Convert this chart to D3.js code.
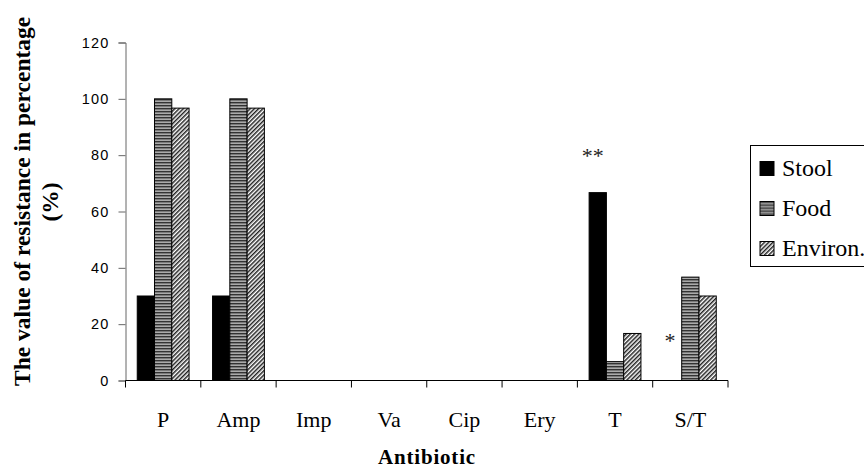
<!DOCTYPE html>
<html>
<head>
<meta charset="utf-8">
<script src="https://cdn.jsdelivr.net/npm/d3@7"></script>
<style>
  body { margin: 0; background: #fff; overflow: hidden; }
  svg { display: block; }
</style>
</head>
<body>
<svg id="chart" width="864" height="470"></svg>
<script>
// chart data
var antibiotics = ["P", "Amp", "Imp", "Va", "Cip", "Ery", "T", "S/T"];
var sources = ["Stool", "Food", "Environ."];
var stool = [30, 30, 0, 0, 0, 0, 66.7, 0];
var food = [100, 100, 0, 0, 0, 0, 6.7, 36.7];
var environ = [96.7, 96.7, 0, 0, 0, 0, 16.7, 30];
var yTicks = [0, 20, 40, 60, 80, 100, 120];
var marks = [{ cat: "T", text: "**", y: 81 }, { cat: "S/T", text: "*", y: 15.4 }];

var serif = "Liberation Serif, Times New Roman, serif";
var svg = d3.select("#chart");

var x = d3.scaleBand().domain(antibiotics).range([125.5, 728]).padding(0);
var x1 = d3.scaleBand().domain(sources).range([0, x.bandwidth()])
    .paddingInner(0).paddingOuter(0.68);
var y = d3.scaleLinear().domain([0, 120]).range([380.5, 42.5]);

// patterns for the fills
var defs = svg.append("defs");
var pFood = defs.append("pattern").attr("id", "food")
    .attr("patternUnits", "userSpaceOnUse").attr("width", 6).attr("height", 3);
pFood.append("rect").attr("width", 6).attr("height", 3).attr("fill", "#aaa");
pFood.append("rect").attr("width", 6).attr("height", 1.4).attr("fill", "#333");

var pEnv = defs.append("pattern").attr("id", "env")
    .attr("patternUnits", "userSpaceOnUse").attr("width", 3).attr("height", 3)
    .attr("patternTransform", "rotate(45)");
pEnv.append("rect").attr("width", 3).attr("height", 3).attr("fill", "#fff");
pEnv.append("rect").attr("width", 1.5).attr("height", 3).attr("fill", "#222");

var fills = { "Stool": "#000", "Food": "url(#food)", "Environ.": "url(#env)" };

var rows = antibiotics.map(function(a, i) {
    return { cat: a, values: [stool[i], food[i], environ[i]] };
});

// bars
var groups = svg.append("g").selectAll("g")
    .data(rows)
    .join("g")
    .attr("transform", function(d) { return "translate(" + x(d.cat) + ",0)"; });

groups.selectAll("rect")
    .data(function(d) {
        return sources.map(function(s, j) { return { key: s, value: d.values[j] }; });
    })
    .join("rect")
    .filter(function(d) { return d.value > 0; })
    .attr("x", function(d) { return x1(d.key); })
    .attr("y", function(d) { return y(d.value); })
    .attr("width", x1.bandwidth())
    .attr("height", function(d) { return y(0) - y(d.value); })
    .attr("fill", function(d) { return fills[d.key]; })
    .attr("stroke", "#000")
    .attr("stroke-width", 1);

// y axis
var yAxis = svg.append("g")
    .attr("transform", "translate(125.5,0)")
    .call(d3.axisLeft(y).tickValues(yTicks).tickSize(7).tickPadding(9));
yAxis.select(".domain").attr("stroke", "#666");
yAxis.selectAll(".tick line").attr("stroke", "#666");
yAxis.selectAll("text")
    .attr("font-family", "Liberation Sans, Arial, sans-serif")
    .attr("font-size", 14.5)
    .attr("letter-spacing", 1.2)
    .attr("fill", "#000");

// x axis, ticks between categories
var xAxis = svg.append("g").attr("transform", "translate(0,380.5)");
xAxis.append("line")
    .attr("x1", x.range()[0]).attr("x2", x.range()[1])
    .attr("stroke", "#000");
xAxis.selectAll("line.tk")
    .data(antibiotics.concat(["end"]))
    .join("line")
    .attr("class", "tk")
    .attr("x1", function(d, i) { return x.range()[0] + i * x.step(); })
    .attr("x2", function(d, i) { return x.range()[0] + i * x.step(); })
    .attr("y1", 0).attr("y2", 7)
    .attr("stroke", "#000");
xAxis.selectAll("text")
    .data(antibiotics)
    .join("text")
    .attr("x", function(d) { return x(d) + x.bandwidth() / 2; })
    .attr("y", 46)
    .attr("text-anchor", "middle")
    .attr("font-family", serif)
    .attr("font-size", 22)
    .text(function(d) { return d; });

// significance marks
svg.selectAll("text.mark")
    .data(marks)
    .join("text")
    .attr("class", "mark")
    .attr("x", function(d) {
        var c = x(d.cat) + x1("Stool") + x1.bandwidth() / 2;
        return d.cat == "T" ? c - 5 : c - 3;
    })
    .attr("y", function(d) { return y(d.y) + 11; })
    .attr("text-anchor", "middle")
    .attr("font-family", serif)
    .attr("font-size", 22)
    .attr("fill", "#222")
    .text(function(d) { return d.text; });

// axis titles
svg.append("text")
    .attr("x", 427).attr("y", 464)
    .attr("text-anchor", "middle")
    .attr("font-family", serif)
    .attr("font-weight", "bold")
    .attr("font-size", 21)
    .attr("letter-spacing", 0.8)
    .text("Antibiotic");

svg.append("text")
    .attr("transform", "translate(30,386) rotate(-90)")
    .attr("text-anchor", "start")
    .attr("font-family", serif)
    .attr("font-weight", "bold")
    .attr("font-size", 23.5)
    .text("The value of resistance in percentage");
svg.append("text")
    .attr("transform", "translate(58,202) rotate(-90)")
    .attr("text-anchor", "middle")
    .attr("font-family", serif)
    .attr("font-weight", "bold")
    .attr("font-size", 23.5)
    .text("(%)");

// legend
var legend = svg.append("g").attr("transform", "translate(750.5,145.5)");
legend.append("rect")
    .attr("width", 130).attr("height", 121)
    .attr("fill", "#fff").attr("stroke", "#000");
var items = legend.selectAll("g")
    .data(sources)
    .join("g")
    .attr("transform", function(d, i) { return "translate(9.5," + (16 + i * 40) + ")"; });
items.append("rect")
    .attr("width", 14).attr("height", 14)
    .attr("fill", function(d) { return fills[d]; })
    .attr("stroke", "#000");
items.append("text")
    .attr("x", 22).attr("y", 14.5)
    .attr("font-family", serif)
    .attr("font-size", 24)
    .text(function(d) { return d; });
</script>
</body>
</html>
